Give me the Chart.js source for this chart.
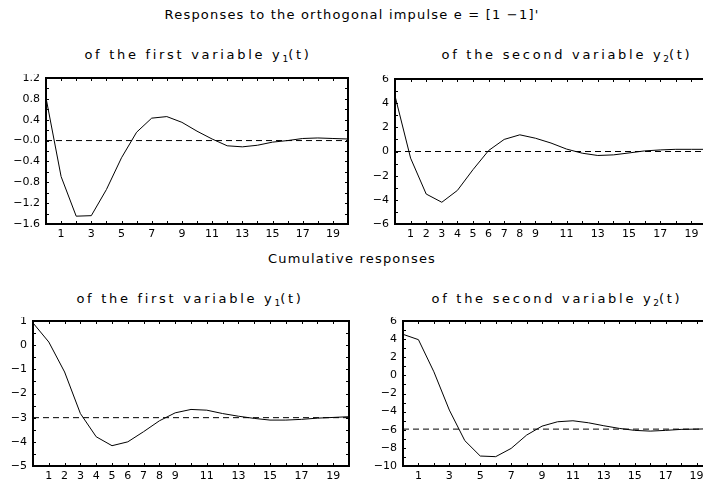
<!DOCTYPE html>
<html><head><meta charset="utf-8">
<script src="https://cdn.jsdelivr.net/npm/chart.js@4.4.0/dist/chart.umd.min.js"></script>
<style>
html,body{margin:0;padding:0;width:703px;height:480px;overflow:hidden;background:#fff;position:relative;}
.t{position:absolute;font-family:"DejaVu Sans";font-size:13px;letter-spacing:1.2px;white-space:nowrap;color:#000;transform:translate(-50%,-50%);line-height:1;}
.t.p{letter-spacing:2.7px;}
.t sub{font-size:9px;letter-spacing:0;vertical-align:-3px;line-height:0;}
canvas{position:absolute;}
</style></head><body>
<div class="t" style="left:352px;top:14px">Responses to the orthogonal impulse e = [1 −1]'</div>
<div class="t p" style="left:198px;top:54px">of the first variable y<sub>1</sub>(t)</div>
<div class="t p" style="left:567px;top:54px">of the second variable y<sub>2</sub>(t)</div>
<div class="t" style="left:352px;top:258px">Cumulative responses</div>
<div class="t p" style="left:190px;top:298px">of the first variable y<sub>1</sub>(t)</div>
<div class="t p" style="left:557px;top:298px">of the second variable y<sub>2</sub>(t)</div>
<canvas id="c1"></canvas><canvas id="c2"></canvas><canvas id="c3"></canvas><canvas id="c4"></canvas>
<script>
// ---- data ----
const periods = [0,1,2,3,4,5,6,7,8,9,10,11,12,13,14,15,16,17,18,19,20];
const resp1 = [0.82,-0.69,-1.45,-1.44,-0.94,-0.33,0.16,0.43,0.46,0.35,0.18,0.03,-0.10,-0.12,-0.09,-0.03,0.00,0.04,0.05,0.04,0.03];
const resp2 = [4.6,-0.55,-3.52,-4.2,-3.22,-1.5,0.08,1.0,1.38,1.1,0.7,0.2,-0.14,-0.33,-0.28,-0.12,0.05,0.13,0.18,0.18,0.18];
const cum1 = [0.92,0.13,-1.11,-2.83,-3.79,-4.16,-4.0,-3.58,-3.13,-2.80,-2.66,-2.69,-2.83,-2.94,-3.03,-3.10,-3.10,-3.07,-3.02,-2.99,-2.96];
const cum2 = [4.53,3.94,0.39,-3.83,-7.2,-8.9,-8.97,-8.06,-6.59,-5.6,-5.12,-5.01,-5.23,-5.56,-5.85,-6.07,-6.15,-6.07,-5.96,-5.93,-5.89];
const level1 = 0, level2 = 0, level3 = -3, level4 = -5.93;

const y1Ticks = [1.2,0.8,0.4,0,-0.4,-0.8,-1.2,-1.6];
const y1Labels = ["1.2","0.8","0.4","−0.0","−0.4","−0.8","−1.2","−1.6"];
const y2Ticks = [6,4,2,0,-2,-4,-6];
const y2Labels = ["6","4","2","0","−2","−4","−6"];
const y3Ticks = [1,0,-1,-2,-3,-4,-5];
const y3Labels = ["1","0","−1","−2","−3","−4","−5"];
const y4Ticks = [6,4,2,0,-2,-4,-6,-8,-10];
const y4Labels = ["6","4","2","0","−2","−4","−6","−8","−10"];
const xOdd = [1,3,5,7,9,11,13,15,17,19];
const xMixed = [1,2,3,4,5,6,7,8,9,11,13,15,17,19];

// ---- drawing ----
const YW = 46, PADT = 4, PADR = 4, XH = 20;
const FONT = {family:"DejaVu Sans", size:11};

const framePlugin = {
  id:'frame',
  afterDatasetsDraw(chart){
    const {ctx, chartArea:a, scales:{x,y}} = chart;
    ctx.save();
    ctx.strokeStyle = '#000';
    ctx.lineWidth = 1;
    ctx.beginPath();
    for (let v = Math.ceil(x.min); v <= x.max; v++) {
      const px = Math.round(x.getPixelForValue(v)) + 0.5;
      ctx.moveTo(px, a.bottom); ctx.lineTo(px, a.bottom - 3);
      ctx.moveTo(px, a.top); ctx.lineTo(px, a.top + 3);
    }
    const tv = y.ticks.map(t => t.value).sort((p,q)=>p-q);
    const all = [];
    for (let i = 0; i < tv.length; i++) {
      all.push(tv[i]);
      if (i < tv.length - 1) all.push((tv[i] + tv[i+1]) / 2);
    }
    all.forEach(v => {
      const py = Math.round(y.getPixelForValue(v)) + 0.5;
      ctx.moveTo(a.left, py); ctx.lineTo(a.left + 3, py);
      ctx.moveTo(a.right, py); ctx.lineTo(a.right - 3, py);
    });
    ctx.stroke();
    ctx.lineWidth = 2;
    ctx.strokeRect(a.left, a.top, a.width, a.height);
    ctx.restore();
  }
};

function panel(id, box, series, level, yTicks, yLabels, xTicks) {
  const cv = document.getElementById(id);
  const w = YW + (box.r - box.l) + PADR;
  const h = PADT + (box.b - box.t) + XH;
  cv.width = w; cv.height = h;
  cv.style.width = w + 'px'; cv.style.height = h + 'px';
  cv.style.left = (box.l - YW) + 'px';
  cv.style.top = (box.t - PADT) + 'px';
  new Chart(cv, {
    type: 'line',
    data: { datasets: [
      { data: periods.map((t,i) => ({x:t, y:series[i]})), borderColor:'#000', borderWidth:1, pointRadius:0, tension:0, fill:false },
      { data: [{x:periods[0], y:level}, {x:periods[periods.length-1], y:level}], borderColor:'#000', borderWidth:1, borderDash:[6,4], pointRadius:0, fill:false }
    ]},
    options: {
      responsive:false, maintainAspectRatio:false, animation:false, events:[],
      clip:false,
      layout:{ padding:{top:PADT, right:PADR, left:0, bottom:0} },
      plugins:{ legend:{display:false}, tooltip:{enabled:false} },
      scales:{
        x:{ type:'linear', min:0, max:20,
            grid:{display:false, drawTicks:false}, border:{display:false},
            afterBuildTicks: s => { s.ticks = xTicks.map(v => ({value:v})); },
            afterFit: s => { s.height = XH; s.paddingLeft = 0; s.paddingRight = 0; },
            ticks:{ font:FONT, color:'#000', padding:4, maxRotation:0, autoSkip:false, callback:v => String(v) } },
        y:{ type:'linear', min:Math.min(...yTicks), max:Math.max(...yTicks),
            grid:{display:false, drawTicks:false}, border:{display:false},
            afterBuildTicks: s => { s.ticks = yTicks.map(v => ({value:v})); },
            afterFit: s => { s.width = YW; s.paddingTop = 0; s.paddingBottom = 0; },
            ticks:{ font:FONT, color:'#000', padding:6, autoSkip:false,
                    callback:(v) => { const i = yTicks.findIndex(t => Math.abs(t - v) < 1e-9); return i >= 0 ? yLabels[i] : ''; } } }
      }
    },
    plugins:[framePlugin]
  });
}

panel('c1', {l:46, r:348, t:78, b:224}, resp1, level1, y1Ticks, y1Labels, xOdd);
panel('c2', {l:395, r:707, t:79, b:224}, resp2, level2, y2Ticks, y2Labels, xMixed);
panel('c3', {l:33, r:349, t:321, b:466}, cum1, level3, y3Ticks, y3Labels, xMixed);
panel('c4', {l:403, r:712, t:321, b:466}, cum2, level4, y4Ticks, y4Labels, xOdd);
</script>
</body></html>
